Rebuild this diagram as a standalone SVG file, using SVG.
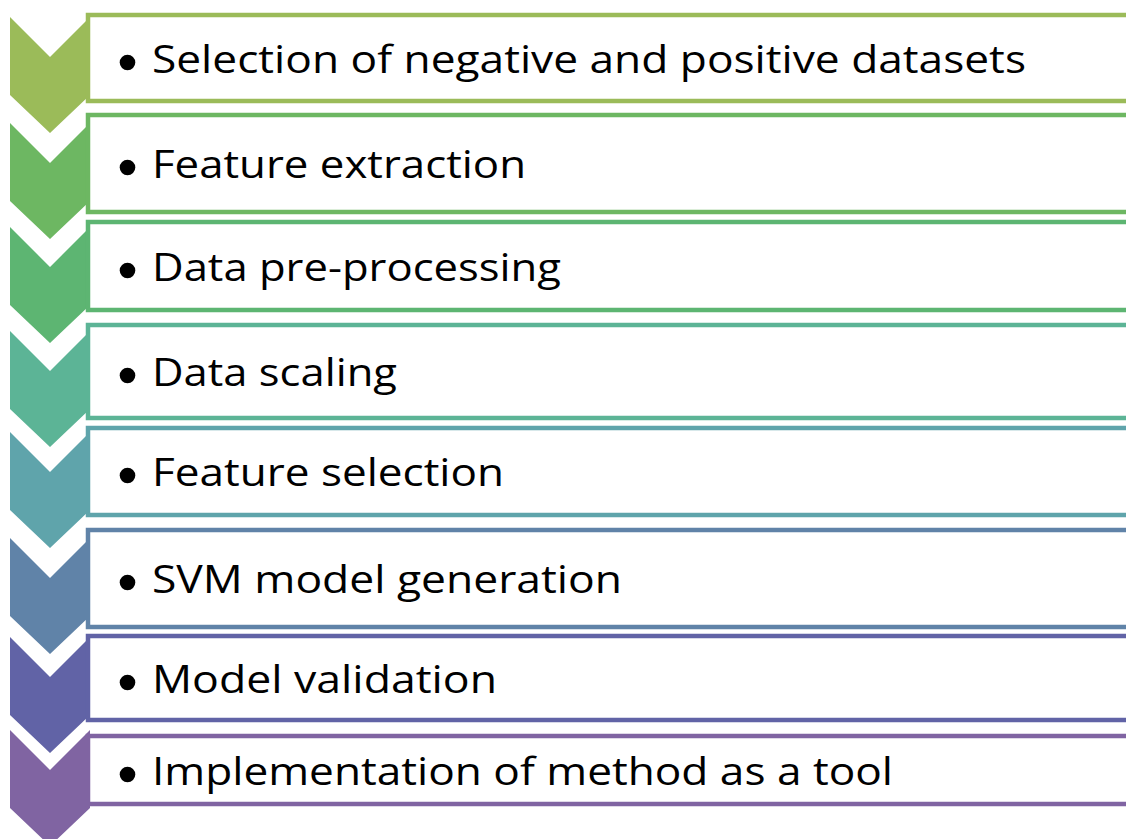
<svg xmlns="http://www.w3.org/2000/svg" width="1126" height="839" viewBox="0 0 1126 839">
  <style>
    .box { fill: #ffffff; stroke-width: 4.5; stroke-linejoin: miter; }
    .chev { stroke: none; }
    .label { font-family: "Open Sans", "Liberation Sans", sans-serif; font-size: 39px; fill: #000000; }
    .bullet { fill: #000000; }
  </style>
  <defs>
    <!-- chevron pointing down: 80 wide, notch 40 deep, sides 78 tall, tip at 116 -->
    <polygon id="chevron" points="10,0 50,40 90,0 90,78 50,116 10,78"/>
  </defs>
  <rect width="1126" height="839" fill="#ffffff"/>

  <!-- each text panel: square left corners, rounded right corners running off the edge -->
  <g id="step1">
    <use href="#chevron" class="chev" transform="translate(0,17)" fill="#9BBB59"/>
    <path class="box" d="M88,15 H1125 A10,10 0 0 1 1135,25 V91 A10,10 0 0 1 1125,101 H88 Z" stroke="#9BBB59"/>
    <circle class="bullet" cx="127.5" cy="62.5" r="7.8"/>
    <text class="label" x="152" y="73" textLength="874" lengthAdjust="spacingAndGlyphs">Selection of negative and positive datasets</text>
  </g>

  <g id="step2">
    <use href="#chevron" class="chev" transform="translate(0,123)" fill="#6DB762"/>
    <path class="box" d="M88,115 H1125 A10,10 0 0 1 1135,125 V202 A10,10 0 0 1 1125,212 H88 Z" stroke="#6DB762"/>
    <circle class="bullet" cx="127.5" cy="167.5" r="7.8"/>
    <text class="label" x="152" y="178" textLength="374" lengthAdjust="spacingAndGlyphs">Feature extraction</text>
  </g>

  <g id="step3">
    <use href="#chevron" class="chev" transform="translate(0,227)" fill="#5DB572"/>
    <path class="box" d="M88,222 H1125 A10,10 0 0 1 1135,232 V300 A10,10 0 0 1 1125,310 H88 Z" stroke="#5DB572"/>
    <circle class="bullet" cx="127.5" cy="270.5" r="7.8"/>
    <text class="label" x="152" y="281" textLength="409" lengthAdjust="spacingAndGlyphs">Data pre-processing</text>
  </g>

  <g id="step4">
    <use href="#chevron" class="chev" transform="translate(0,331)" fill="#5CB496"/>
    <path class="box" d="M88,325 H1125 A10,10 0 0 1 1135,335 V408 A10,10 0 0 1 1125,418 H88 Z" stroke="#5CB496"/>
    <circle class="bullet" cx="127.5" cy="375.5" r="7.8"/>
    <text class="label" x="152" y="386" textLength="245" lengthAdjust="spacingAndGlyphs">Data scaling</text>
  </g>

  <g id="step5">
    <use href="#chevron" class="chev" transform="translate(0,432)" fill="#5FA4AB"/>
    <path class="box" d="M88,428 H1125 A10,10 0 0 1 1135,438 V505 A10,10 0 0 1 1125,515 H88 Z" stroke="#5FA4AB"/>
    <circle class="bullet" cx="127.5" cy="475.5" r="7.8"/>
    <text class="label" x="152" y="486" textLength="352" lengthAdjust="spacingAndGlyphs">Feature selection</text>
  </g>

  <g id="step6">
    <use href="#chevron" class="chev" transform="translate(0,538)" fill="#6083A8"/>
    <path class="box" d="M88,530 H1125 A10,10 0 0 1 1135,540 V617 A10,10 0 0 1 1125,627 H88 Z" stroke="#6083A8"/>
    <circle class="bullet" cx="127.5" cy="582.5" r="7.8"/>
    <text class="label" x="152" y="593" textLength="470" lengthAdjust="spacingAndGlyphs">SVM model generation</text>
  </g>

  <g id="step7">
    <use href="#chevron" class="chev" transform="translate(0,637)" fill="#6163A6"/>
    <path class="box" d="M88,636 H1125 A10,10 0 0 1 1135,646 V710 A10,10 0 0 1 1125,720 H88 Z" stroke="#6163A6"/>
    <circle class="bullet" cx="127.5" cy="682.5" r="7.8"/>
    <text class="label" x="152" y="693" textLength="345" lengthAdjust="spacingAndGlyphs">Model validation</text>
  </g>

  <g id="step8">
    <use href="#chevron" class="chev" transform="translate(0,730)" fill="#8064A2"/>
    <path class="box" d="M88,736 H1125 A10,10 0 0 1 1135,746 V794 A10,10 0 0 1 1125,804 H88 Z" stroke="#8064A2"/>
    <circle class="bullet" cx="127.5" cy="774.5" r="7.8"/>
    <text class="label" x="152" y="785" textLength="741" lengthAdjust="spacingAndGlyphs">Implementation of method as a tool</text>
  </g>

  <!-- the steps are linked by the stacked chevrons themselves; no separate lines -->
  <g id="connectors"/>
</svg>
